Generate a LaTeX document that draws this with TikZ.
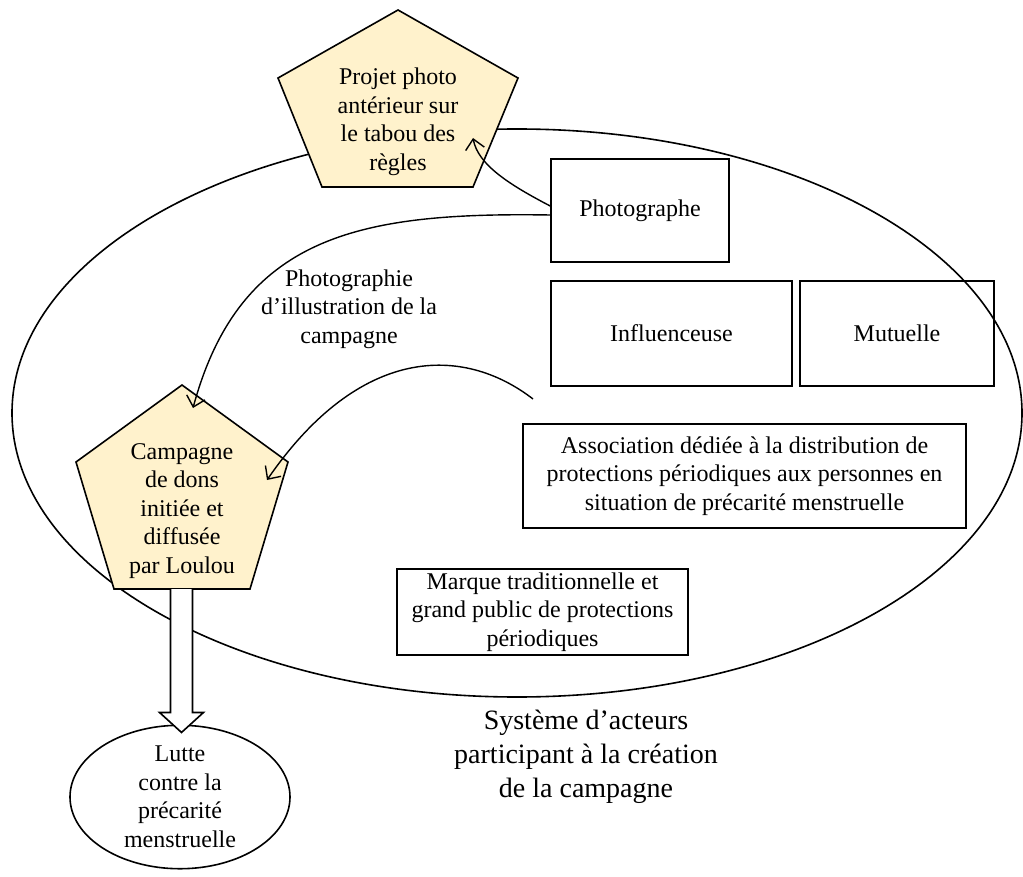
\documentclass[tikz,border=0pt]{standalone}
\usepackage{fontspec}
\setmainfont{Liberation Serif}
\usetikzlibrary{calc,arrows.meta,positioning,shapes.geometric}
\definecolor{jaune}{HTML}{FFF2CC}
\tikzset{
  fl/.style={-{Straight Barb[length=10pt,width=19pt]},line width=1.4pt},
  boite/.style={draw,line width=1.6pt,align=center,inner sep=0pt},
  penta/.style={draw,line width=1.6pt,fill=jaune},
  txt/.style={align=center,inner sep=0pt}
}

\begin{document}
\begin{tikzpicture}[x=1pt,y=-1pt,font=\fontsize{24}{28.5}\selectfont]
\useasboundingbox (0,0) rectangle (1023,877);
% systeme d'acteurs
\node[draw,ellipse,line width=1.6pt,minimum width=1010pt,minimum height=568pt] (systeme) at (517,413) {};
\node[txt,font=\fontsize{28}{34}\selectfont] (legende) at (586,757) {Système d’acteurs\\participant à la création\\de la campagne};
% pentagones
\filldraw[penta] (398,10) -- (518,78) -- (473,187) -- (322,187) -- (278,78) -- cycle;
\node[txt] (projet) at (398,122) {Projet photo\\antérieur sur\\le tabou des\\règles};
\filldraw[penta] (182,385) -- (288,462) -- (250,589) -- (114,589) -- (76,462) -- cycle;
\node[txt] (campagne) at (182,511) {Campagne\\de dons\\initiée et\\diffusée\\par Loulou};
% acteurs
\node[boite,minimum width=178pt,minimum height=103pt] (photographe) at (640,210.5) {Photographe};
\node[boite,minimum width=241pt,minimum height=105pt] (influenceuse) at (671.5,333.5) {Influenceuse};
\node[boite,minimum width=194pt,minimum height=105pt] (mutuelle) at (897,333.5) {Mutuelle};
\node[boite,minimum width=443pt,minimum height=104pt] (association) at (744.5,476) {Association dédiée à la distribution de\\protections périodiques aux personnes en\\situation de précarité menstruelle};
\node[boite,minimum width=291pt,minimum height=86pt] (marque) at (542.5,612) {Marque traditionnelle et\\grand public de protections\\périodiques};
% liens
\coordinate (depart) at (533,399);
\draw[fl] ($(photographe.west)+(0,-4.5)$) .. controls (510,185) and (478,165) .. ($(projet)+(75,16)$);
\draw[fl] ($(photographe.west)+(0,4.5)$) .. controls (360,212) and (240,235) .. ($(campagne)+(11,-103)$);
\draw[fl] (depart) .. controls (463,345) and (360,345) .. ($(campagne)+(85,-31)$);
\node[txt] (photo) at (349,309) {Photographie\\d’illustration de la\\campagne};
% resultat
\node[draw,ellipse,line width=1.6pt,minimum width=220pt,minimum height=142pt,txt] (lutte) at (180,797) {Lutte\\contre la\\précarité\\menstruelle};
\coordinate (haut) at (181.5,589);
\coordinate (pointe) at ($(lutte.north)+(1.5,8)$);
\filldraw[line width=1.6pt,fill=white] ($(haut)+(-11,0)$) -- ($(pointe)+(-11,-20)$) -- ($(pointe)+(-22,-20)$) -- (pointe) -- ($(pointe)+(22,-20)$) -- ($(pointe)+(11,-20)$) -- ($(haut)+(11,0)$);
\end{tikzpicture}
\end{document}
